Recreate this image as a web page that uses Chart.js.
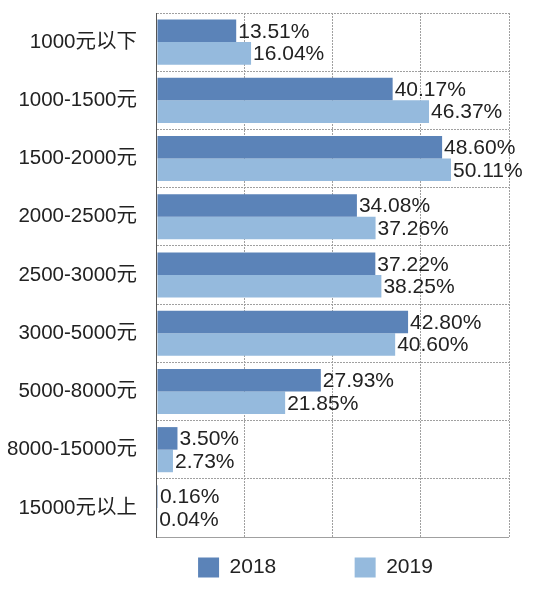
<!DOCTYPE html>
<html>
<head>
<meta charset="utf-8">
<script src="https://cdn.jsdelivr.net/npm/chart.js@4/dist/chart.umd.min.js"></script>
<style>
  html, body { margin: 0; padding: 0; background: #fff; }
  #wrap { width: 537px; height: 593px; }
</style>
</head>
<body>
<div id="wrap"><canvas id="chart"></canvas></div>
<script>
// 价格区间
const categories = ['1000元以下', '1000-1500元', '1500-2000元', '2000-2500元', '2500-3000元',
    '3000-5000元', '5000-8000元', '8000-15000元', '15000元以上'];
const seriesNames = ['2018', '2019'];
const values2018 = [13.51, 40.17, 48.60, 34.08, 37.22, 42.80, 27.93, 3.50, 0.16];
const values2019 = [16.04, 46.37, 50.11, 37.26, 38.25, 40.60, 21.85, 2.73, 0.04];
const xTicks = [0, 15, 30, 45, 60];

const FONT = "'Liberation Sans', Arial, 'Noto Sans CJK SC', sans-serif";
const textColor = '#222';
const gridColor = '#a0a0a0';
const axisColor = '#555';

// rótulos de valor à direita de cada barra
const valueLabels = {
    id: 'valueLabels',
    afterDatasetsDraw(chart) {
        const ctx = chart.ctx;
        ctx.save();
        ctx.font = '21px ' + FONT;
        ctx.fillStyle = textColor;
        ctx.textAlign = 'left';
        ctx.textBaseline = 'middle';
        chart.data.datasets.forEach((ds, i) => {
            chart.getDatasetMeta(i).data.forEach((bar, j) => {
                ctx.fillText(ds.data[j].toFixed(2) + '%', bar.x + 2, bar.y + 1);
            });
        });
        ctx.restore();
    }
};

// só as linhas de grade ficam pontilhadas; o eixo y continua sólido
const gridDash = c => (c.type === 'tick' && c.index !== 0) || c.scale.axis === 'y' && c.type === 'tick' ? [2, 1] : [];

new Chart(document.getElementById('chart'), {
    type: 'bar',
    data: {
        labels: categories,
        datasets: [
            { label: seriesNames[0], data: values2018, backgroundColor: '#5b83b8' },
            { label: seriesNames[1], data: values2019, backgroundColor: '#95badd' }
        ]
    },
    options: {
        responsive: true,
        maintainAspectRatio: false,
        animation: false,
        indexAxis: 'y',
        barPercentage: 1,
        categoryPercentage: 0.775,
        layout: { padding: { top: 13, left: 7, right: 28, bottom: 5 } },
        scales: {
            x: {
                min: xTicks[0],
                max: xTicks[xTicks.length - 1],
                afterBuildTicks: axis => { axis.ticks = xTicks.map(v => ({ value: v })); },
                ticks: { display: false },
                border: { display: false, dash: gridDash },
                grid: { color: c => c.index === 0 ? axisColor : gridColor, drawTicks: false }
            },
            y: {
                ticks: { color: textColor, font: { family: FONT, size: 20.5 }, padding: 0 },
                border: { display: true, color: axisColor, width: 1, dash: gridDash },
                grid: { color: gridColor, drawTicks: true, tickLength: 20, tickColor: 'rgba(0,0,0,0)' }
            }
        },
        plugins: {
            legend: {
                position: 'bottom',
                fullSize: false,
                labels: {
                    color: textColor,
                    font: { family: FONT, size: 21 },
                    boxWidth: 21,
                    boxHeight: 20,
                    padding: 20,
                    generateLabels(chart) {
                        const items = Chart.defaults.plugins.legend.labels.generateLabels(chart);
                        items[0].text += ' '.repeat(10);
                        items[1].text += ' '.repeat(6);
                        return items;
                    }
                }
            },
            tooltip: { enabled: false }
        }
    },
    plugins: [valueLabels]
});
</script>
</body>
</html>
